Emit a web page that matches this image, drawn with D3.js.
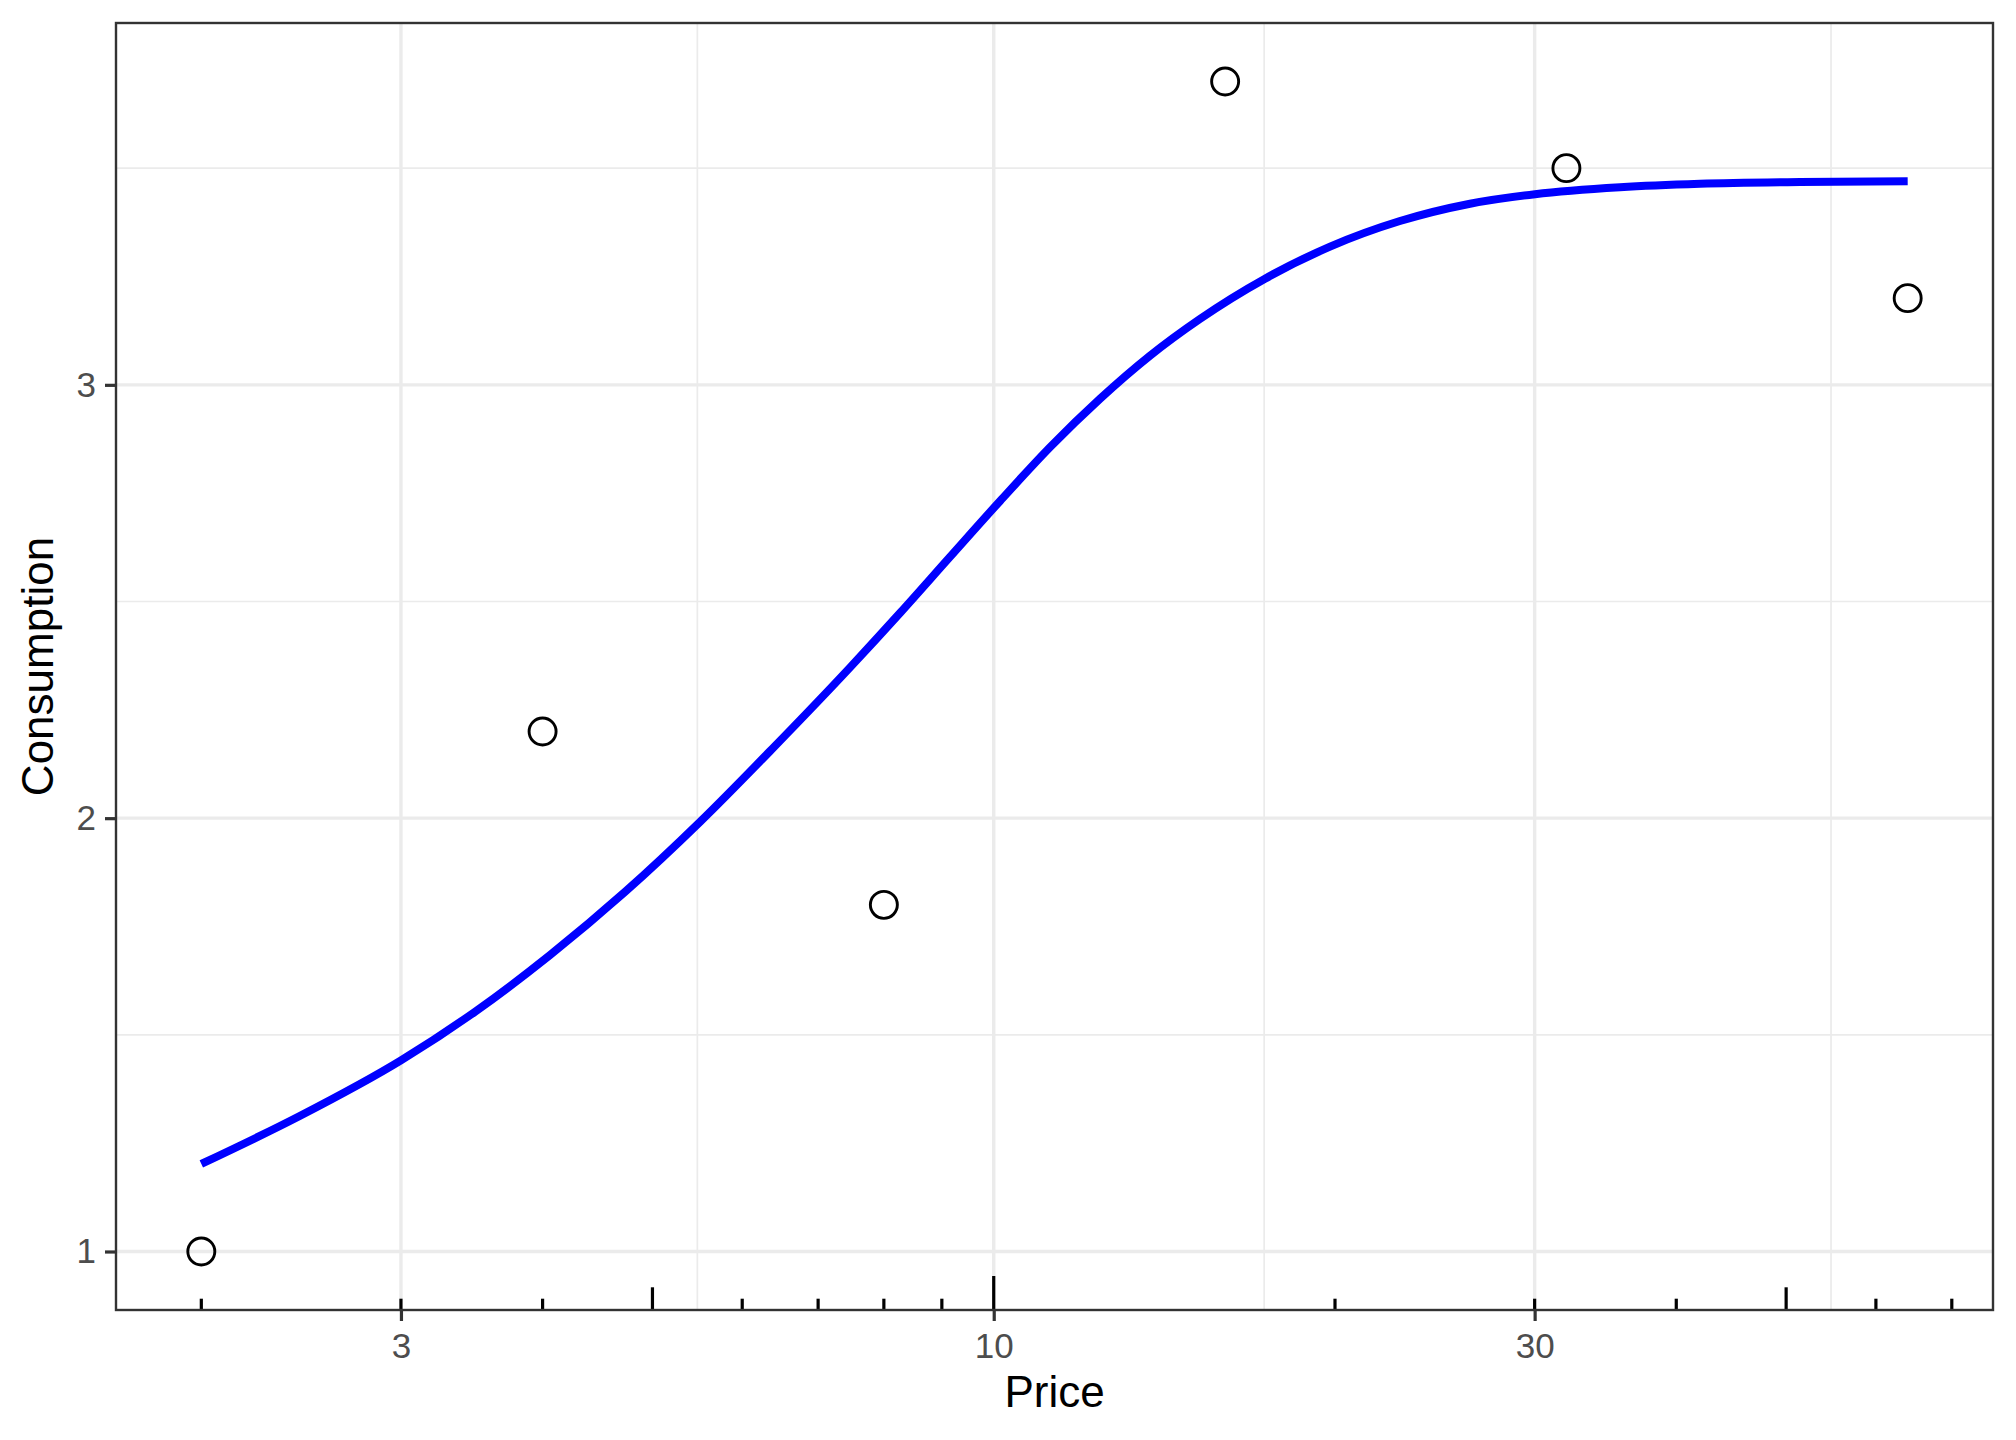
<!DOCTYPE html>
<html>
<head>
<meta charset="utf-8">
<script src="https://cdn.jsdelivr.net/npm/d3@7"></script>
<style>
  html, body { margin: 0; padding: 0; background: #ffffff; }
  svg { display: block; }
  text { font-family: "Liberation Sans", Arial, Helvetica, sans-serif; }
</style>
</head>
<body>
<script>
// ---- data ----
const price = [2, 4, 8, 16, 32, 64];
const consumption = [1.0, 2.2, 1.8, 3.7, 3.5, 3.2];

// fitted curve
const fitPrice = [2.0, 2.44, 3.0, 3.49, 4.06, 4.73, 5.51, 6.41, 7.47, 8.27, 9.15, 10.13, 11.21, 12.41, 13.73, 15.2, 17.35, 19.8, 22.82, 26.31, 30.02, 35.68, 41.98, 51.43, 64];
const fitConsumption = [1.202, 1.312, 1.441, 1.554, 1.684, 1.830, 1.992, 2.166, 2.348, 2.474, 2.603, 2.732, 2.856, 2.968, 3.067, 3.152, 3.245, 3.319, 3.378, 3.418, 3.440, 3.456, 3.464, 3.468, 3.470];

const xTicks = [3, 10, 30];
const xMinorGrid = [Math.sqrt(30), Math.sqrt(300), Math.sqrt(3000)];
const yTicks = [1, 2, 3];
const yMinorGrid = [1.5, 2.5, 3.5];
const logTickDecades = [1, 10];
const logTickMultipliers = [1, 2, 3, 4, 5, 6, 7, 8, 9];

// ---- layout ----
const W = 2016, H = 1440;
const panel = { left: 116, right: 1993, top: 23, bottom: 1310 };

const svg = d3.select("body").append("svg").attr("width", W).attr("height", H);
svg.append("rect").attr("width", W).attr("height", H).attr("fill", "#ffffff");

// scales with ggplot-like 5% expansion
const lx = d3.extent(price).map(Math.log10);
const ex = (lx[1] - lx[0]) * 0.05;
const x = d3.scaleLog()
  .domain([Math.pow(10, lx[0] - ex), Math.pow(10, lx[1] + ex)])
  .range([panel.left, panel.right]);
const ye = d3.extent(consumption);
const ey = (ye[1] - ye[0]) * 0.05;
const y = d3.scaleLinear()
  .domain([ye[0] - ey, ye[1] + ey])
  .range([panel.bottom, panel.top]);

const g = svg.append("g");

// grid
g.selectAll("line.xminor").data(xMinorGrid).join("line")
  .attr("x1", d => x(d)).attr("x2", d => x(d))
  .attr("y1", panel.top).attr("y2", panel.bottom)
  .attr("stroke", "#EBEBEB").attr("stroke-width", 1.7);
g.selectAll("line.yminor").data(yMinorGrid).join("line")
  .attr("y1", d => y(d)).attr("y2", d => y(d))
  .attr("x1", panel.left).attr("x2", panel.right)
  .attr("stroke", "#EBEBEB").attr("stroke-width", 1.7);
g.selectAll("line.xmajor").data(xTicks).join("line")
  .attr("x1", d => x(d)).attr("x2", d => x(d))
  .attr("y1", panel.top).attr("y2", panel.bottom)
  .attr("stroke", "#EBEBEB").attr("stroke-width", 3.4);
g.selectAll("line.ymajor").data(yTicks).join("line")
  .attr("y1", d => y(d)).attr("y2", d => y(d))
  .attr("x1", panel.left).attr("x2", panel.right)
  .attr("stroke", "#EBEBEB").attr("stroke-width", 3.4);

// log ticks on bottom
const logTicks = [];
logTickDecades.forEach(dec => logTickMultipliers.forEach(m => {
  const v = dec * m;
  if (v >= x.domain()[0] && v <= x.domain()[1]) logTicks.push({ v, m });
}));
const tickLen = m => (m === 1 ? 34 : m === 5 ? 22.7 : 11.3);
g.selectAll("line.logtick").data(logTicks).join("line")
  .attr("x1", d => x(d.v)).attr("x2", d => x(d.v))
  .attr("y1", panel.bottom).attr("y2", d => panel.bottom - tickLen(d.m))
  .attr("stroke", "#000000").attr("stroke-width", 3.2);

// fitted line
const line = d3.line()
  .x((d, i) => x(fitPrice[i]))
  .y((d, i) => y(fitConsumption[i]))
  .curve(d3.curveMonotoneX);
g.append("path").datum(fitPrice)
  .attr("d", line)
  .attr("fill", "none")
  .attr("stroke", "#0000FF")
  .attr("stroke-width", 8)
  .attr("stroke-linecap", "butt");

// points
g.selectAll("circle.pt").data(price).join("circle")
  .attr("cx", d => x(d))
  .attr("cy", (d, i) => y(consumption[i]))
  .attr("r", 13.5)
  .attr("fill", "none")
  .attr("stroke", "#000000")
  .attr("stroke-width", 2.9);

// panel border
g.append("rect")
  .attr("x", panel.left).attr("y", panel.top)
  .attr("width", panel.right - panel.left).attr("height", panel.bottom - panel.top)
  .attr("fill", "none").attr("stroke", "#333333").attr("stroke-width", 2.4);

// axes
const xAxis = d3.axisBottom(x).tickValues(xTicks).tickSize(11).tickPadding(12)
  .tickFormat(d3.format("d"));
const xa = svg.append("g").attr("transform", `translate(0,${panel.bottom})`).call(xAxis);
xa.select(".domain").remove();
xa.selectAll(".tick line").attr("stroke", "#333333").attr("stroke-width", 3.2);
xa.selectAll(".tick text").attr("fill", "#4D4D4D").style("font-size", "35px")
  .style("font-family", "'Liberation Sans', Arial, sans-serif");

const yAxis = d3.axisLeft(y).tickValues(yTicks).tickSize(11).tickPadding(9)
  .tickFormat(d3.format("d"));
const ya = svg.append("g").attr("transform", `translate(${panel.left},0)`).call(yAxis);
ya.select(".domain").remove();
ya.selectAll(".tick line").attr("stroke", "#333333").attr("stroke-width", 3.2);
ya.selectAll(".tick text").attr("fill", "#4D4D4D").style("font-size", "35px")
  .style("font-family", "'Liberation Sans', Arial, sans-serif");

// titles
svg.append("text")
  .attr("x", (panel.left + panel.right) / 2).attr("y", 1407)
  .attr("text-anchor", "middle").attr("fill", "#000000")
  .style("font-size", "44px").text("Price");
svg.append("text")
  .attr("transform", `translate(53,${(panel.top + panel.bottom) / 2}) rotate(-90)`)
  .attr("text-anchor", "middle").attr("fill", "#000000")
  .style("font-size", "44px").text("Consumption");
</script>
</body>
</html>
